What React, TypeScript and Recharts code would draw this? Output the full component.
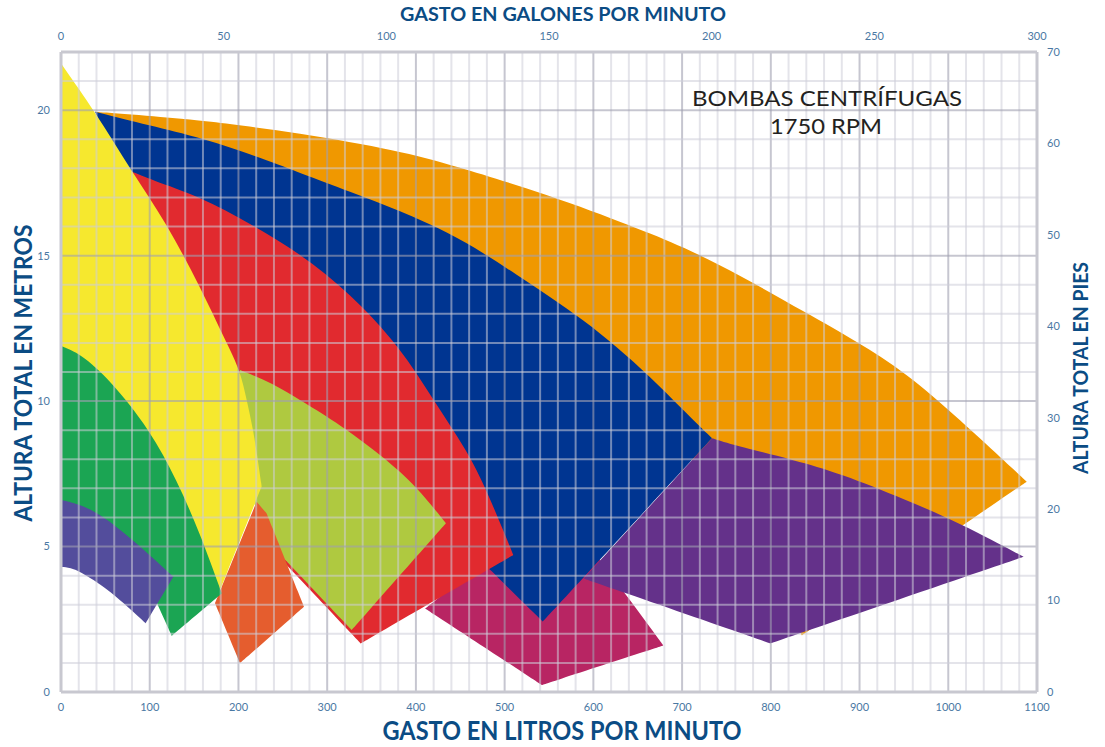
import { ComposedChart, Area, XAxis, YAxis, ReferenceLine } from 'recharts'

// Eje inferior: litros por minuto; eje izquierdo: metros
const ticksLitros = [0, 100, 200, 300, 400, 500, 600, 700, 800, 900, 1000, 1100]
const ticksGalones = [0, 50, 100, 150, 200, 250, 300]
const ticksMetros = [0, 5, 10, 15, 20]
const ticksPies = [0, 10, 20, 30, 40, 50, 60, 70]

// cuadricula: cada 20 L/min y cada metro
const gridLitros = Array.from({ length: 56 }, (_, i) => i * 20)
const gridMetros = Array.from({ length: 23 }, (_, i) => i)

// Zonas de trabajo de cada bomba [litros/min, metros] (contorno cerrado)
const naranja: [number, number][] = [
  [38.3, 19.95], [119.1, 19.75], [156.7, 19.66], [269.4, 19.22], [382.1, 18.6], [438.4, 18.14],
  [551.1, 17.08], [645, 16.0], [701.3, 15.31], [765.2, 14.33], [840.4, 13.02], [896.8, 12.05],
  [953.1, 10.96], [1009.5, 9.46], [1088.4, 7.23], [835, 1.95], [700, 8.5], [400, 14], [38.3, 19.95],
]
const magenta: [number, number][] = [
  [410.4, 2.87], [541.9, 0.24], [679, 1.6], [630, 3.62], [560, 6.5], [410.4, 2.87],
]
const azul: [number, number][] = [
  [38.3, 19.95], [100.3, 19.47], [156.7, 19.07], [231.8, 18.29], [269.4, 17.84], [325.7, 17.2],
  [382.1, 16.54], [438.4, 15.77], [475.9, 15.1], [513.6, 14.34], [551.1, 13.59], [588.6, 12.79],
  [626.3, 11.87], [663.9, 10.84], [701.3, 9.69], [733.7, 8.72], [543, 2.42], [484, 4.19],
  [420, 6.4], [250, 13], [75, 17.5], [38.3, 19.95],
]
const morado: [number, number][] = [
  [733.7, 8.72], [765.2, 8.43], [825.6, 7.98], [877.9, 7.52], [953.1, 6.6], [1013.5, 5.8],
  [1084.9, 4.65], [799.3, 1.67], [589, 3.9], [733.7, 8.72],
]
const rojo: [number, number][] = [
  [79.7, 17.89], [100.3, 17.62], [156.7, 17.03], [213, 16.11], [269.4, 15.08], [325.7, 13.71],
  [382.1, 11.87], [419.6, 10.04], [457.2, 8.32], [479.8, 6.94], [509.8, 4.71], [337.8, 1.67],
  [250, 4.5], [205, 8], [150, 12], [79.7, 17.89],
]
const lima: [number, number][] = [
  [201.7, 11.07], [239.3, 10.61], [269.4, 10.03], [307, 9.35], [363.2, 8.09], [400.9, 7.06],
  [433.9, 5.8], [327.6, 2.13], [254, 4.5], [226, 5.4], [200, 9], [201.7, 11.07],
]
const amarillo: [number, number][] = [
  [0, 21.61], [38.3, 19.95], [79.7, 17.89], [119.1, 16.11], [156.7, 13.93], [186.7, 11.99],
  [201.7, 11.07], [209.3, 10.04], [216.7, 9.01], [222.4, 7.86], [226.2, 7.06], [179.3, 3.51],
  [90, 6], [0, 8], [0, 21.61],
]
const naranjaRojizo: [number, number][] = [
  [173.6, 3.05], [220.5, 6.54], [231.8, 6.14], [273.9, 2.93], [201.7, 0.99], [173.6, 3.05],
]
const verde: [number, number][] = [
  [0, 11.89], [21.4, 11.64], [55.2, 10.73], [100.3, 9.01], [130.4, 7.29], [156.6, 5.46],
  [181.1, 3.39], [124.8, 1.93], [100, 3.6], [50, 5.5], [0, 5.5], [0, 11.89],
]
const indigo: [number, number][] = [
  [0, 6.6], [17.6, 6.48], [44, 6.14], [81.5, 5.22], [126.6, 3.96], [95.4, 2.36],
  [55.2, 3.5], [25.1, 4.08], [10.1, 4.28], [0, 4.3], [0, 6.6],
]

// orden de dibujo: de atras hacia adelante
// "suaves": vertices de los tramos curvos; los demas son esquinas
const zonas = [
  { id: 'naranja', puntos: naranja, suaves: [1, 2, 3, 4, 5, 6, 7, 8, 9, 10, 11, 12, 13], color: '#f09800' },
  { id: 'magenta', puntos: magenta, suaves: [], color: '#b82563' },
  { id: 'azul', puntos: azul, suaves: [1, 2, 3, 4, 5, 6, 7, 8, 9, 10, 11, 12, 13, 14], color: '#003591' },
  { id: 'morado', puntos: morado, suaves: [1, 2, 3, 4, 5], color: '#64318a' },
  { id: 'rojo', puntos: rojo, suaves: [1, 2, 3, 4, 5, 6, 7, 8, 9], color: '#e12a2f' },
  { id: 'lima', puntos: lima, suaves: [1, 2, 3, 4, 5], color: '#afc940' },
  { id: 'amarillo', puntos: amarillo, suaves: [1, 2, 3, 4, 5, 6, 7, 8, 9], color: '#f6e82e' },
  { id: 'naranjaRojizo', puntos: naranjaRojizo, suaves: [], color: '#e55d2e' },
  { id: 'verde', puntos: verde, suaves: [1, 2, 3, 4, 5], color: '#1ba553' },
  { id: 'indigo', puntos: indigo, suaves: [1, 2, 3, 6, 7, 8], color: '#534d9c' },
]

// con curva "basis", repetir una esquina tres veces la deja en punta
const contorno = (puntos: [number, number][], suaves: number[]) =>
  puntos.flatMap(([litros, metros], i) => {
    const p = { litros, metros }
    return suaves.includes(i) ? [p] : [p, p, p]
  })

// el eje superior (galones) toma sus valores de los datos del grafico
const datosGalones = ticksGalones.map((galones) => ({ galones }))

const FONT = 'Lato, "Open Sans", "DejaVu Sans", sans-serif'
const TICK = { fill: '#4a78a3', fontSize: 11, fontFamily: FONT }
const TITLE = '#0b4c84'
const FRAME = { stroke: '#c8c8d0', strokeWidth: 3 }

export default function App() {
  return (
    <div style={{ position: 'absolute', left: 0, top: 0, width: 1105, height: 747, background: '#fff' }}>
      <ComposedChart width={1105} height={747} data={datosGalones} margin={{ top: 22, right: 18, bottom: 25, left: 16 }}>
        <XAxis
          xAxisId="litros" dataKey="litros" type="number" domain={[0, 1100]} ticks={ticksLitros}
          allowDataOverflow tick={TICK} tickLine={false} tickSize={0} tickMargin={11} axisLine={FRAME} height={30}
        />
        <XAxis
          xAxisId="galones" dataKey="galones" orientation="top" type="number" domain={[0, 300]} ticks={ticksGalones}
          allowDataOverflow interval={0} tick={TICK} tickLine={false} tickSize={0} tickMargin={12} axisLine={FRAME} height={30}
        />
        <YAxis
          yAxisId="metros" type="number" domain={[0, 22]} ticks={ticksMetros} allowDataOverflow
          tick={TICK} tickLine={false} tickSize={0} tickMargin={11} axisLine={FRAME} width={45}
        />
        <YAxis
          yAxisId="pies" orientation="right" type="number" domain={[0, 70]} ticks={ticksPies} allowDataOverflow
          tick={TICK} tickLine={false} tickSize={0} tickMargin={10} axisLine={FRAME} width={50}
        />
        {zonas.map((z) => (
          <Area
            key={z.id}
            xAxisId="litros"
            yAxisId="metros"
            data={contorno(z.puntos, z.suaves)}
            dataKey="metros"
            type="basis"
            stroke="none"
            fill={z.color}
            fillOpacity={1}
            dot={false}
            activeDot={false}
            isAnimationActive={false}
          />
        ))}
        {gridLitros.map((v) => (
          <ReferenceLine
            key={`gx-${v}`} xAxisId="litros" yAxisId="metros" x={v} zIndex={450}
            stroke={v % 100 === 0 ? 'rgba(160,160,176,0.6)' : 'rgba(205,205,216,0.55)'} strokeWidth={2}
          />
        ))}
        {gridMetros.map((v) => (
          <ReferenceLine
            key={`gy-${v}`} xAxisId="litros" yAxisId="metros" y={v} zIndex={450}
            stroke={v % 5 === 0 ? 'rgba(160,160,176,0.6)' : 'rgba(205,205,216,0.55)'} strokeWidth={2}
          />
        ))}
      </ComposedChart>
      <svg width={1105} height={747} style={{ position: 'absolute', left: 0, top: 0, pointerEvents: 'none' }}>
        <text x={563} y={21} textAnchor="middle" fill={TITLE} fontFamily={FONT} fontWeight={700} fontSize={19}
          textLength={326} lengthAdjust="spacingAndGlyphs">GASTO EN GALONES POR MINUTO</text>
        <text x={562} y={740} textAnchor="middle" fill={TITLE} fontFamily={FONT} fontWeight={700} fontSize={26}
          textLength={359} lengthAdjust="spacingAndGlyphs">GASTO EN LITROS POR  MINUTO</text>
        <text x={32} y={373} textAnchor="middle" fill={TITLE} fontFamily={FONT} fontWeight={700} fontSize={25}
          transform="rotate(-90, 32, 373)" textLength={297} lengthAdjust="spacingAndGlyphs">ALTURA TOTAL EN METROS</text>
        <text x={1088} y={368} textAnchor="middle" fill={TITLE} fontFamily={FONT} fontWeight={700} fontSize={21}
          transform="rotate(-90, 1088, 368)" textLength={212} lengthAdjust="spacingAndGlyphs">ALTURA TOTAL EN PIES</text>
        <text x={827} y={106} textAnchor="middle" fill="#231f20" fontFamily={FONT} fontSize={22}
          textLength={270} lengthAdjust="spacingAndGlyphs">BOMBAS CENTRÍFUGAS</text>
        <text x={826} y={134} textAnchor="middle" fill="#231f20" fontFamily={FONT} fontSize={22}
          textLength={112} lengthAdjust="spacingAndGlyphs">1750 RPM</text>
      </svg>
    </div>
  )
}
